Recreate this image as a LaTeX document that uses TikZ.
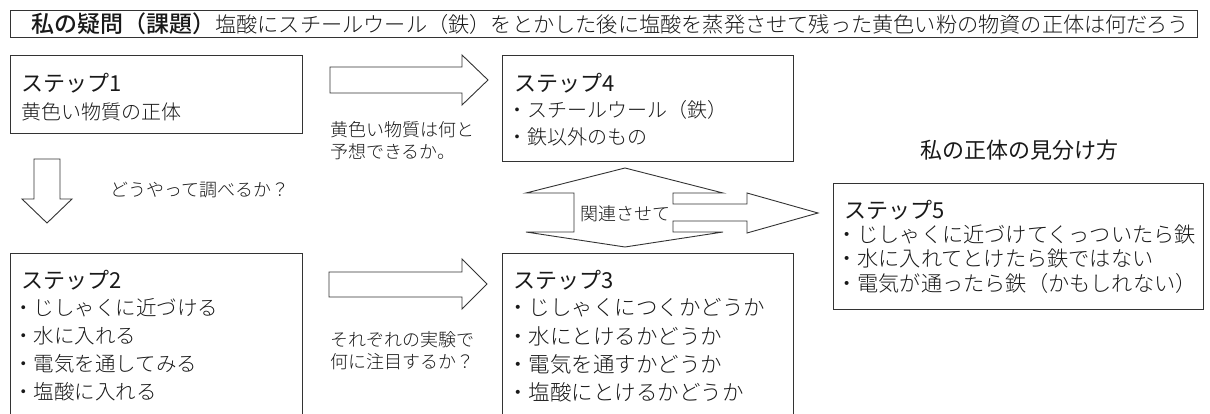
\documentclass[tikz,border=0pt]{standalone}
\usepackage{fontspec}
\setmainfont{Noto Sans CJK JP Light}[BoldFont={Noto Sans CJK JP Medium}]
\newfontfamily\jpreg{Noto Sans CJK JP}
\newcommand{\fsz}[1]{\fontsize{#1pt}{#1pt}\selectfont}
\tikzset{
  boxst/.style={draw=black!80, line width=1pt, inner sep=0pt, anchor=north west},
  txt/.style={inner sep=0pt, anchor=west, text=black!90},
  blockarrow/.style={draw=black!80, line width=0.9pt, fill=white, line join=miter},
}
\begin{document}
\begin{tikzpicture}[x=1pt,y=-1pt]
\useasboundingbox (0,0) rectangle (1210,414);
\clip (0,0) rectangle (1210,414);
% title
\node[boxst, minimum width=1187pt, minimum height=27pt] (tb) at (10,10) {};
\node[txt] (tt) at (31,23.5) {{\fsz{23}\bfseries 私の疑問（課題）}{\fsz{21.2}塩酸にスチールウール（鉄）をとかした後に塩酸を蒸発させて残った黄色い粉の物資の正体は何だろう}};
% boxes
\node[boxst, minimum width=292pt, minimum height=78pt] (s1) at (10,55) {};
\node[boxst, minimum width=291pt, minimum height=106pt] (s4) at (502,55) {};
\node[boxst, minimum width=292pt, minimum height=200pt] (s2) at (10,253) {};
\node[boxst, minimum width=291pt, minimum height=200pt] (s3) at (502,253) {};
\node[boxst, minimum width=370pt, minimum height=126pt] (s5) at (833,183) {};
% step 1
\node[txt] (s1t) at (21,83) {\fsz{22}\jpreg ステップ1};
\node[txt] (s1a) at (21,112) {\fsz{20}黄色い物質の正体};
% step 4
\node[txt] (s4t) at (514,83) {\fsz{22}\jpreg ステップ4};
\node[txt] (s4a) at (507,110) {\fsz{20}・スチールウール（鉄）};
\node[txt] (s4b) at (507,137) {\fsz{20}・鉄以外のもの};
% step 2
\node[txt] (s2t) at (21,280) {\fsz{22}\jpreg ステップ2};
\node[txt] (s2a) at (13,308) {\fsz{20.5}・じしゃくに近づける};
\node[txt] (s2b) at (13,336) {\fsz{20.5}・水に入れる};
\node[txt] (s2c) at (13,364) {\fsz{20.5}・電気を通してみる};
\node[txt] (s2d) at (13,392) {\fsz{20.5}・塩酸に入れる};
% step 3
\node[txt] (s3t) at (513,280) {\fsz{22}\jpreg ステップ3};
\node[txt] (s3a) at (507,308) {\fsz{21.5}・じしゃくにつくかどうか};
\node[txt] (s3b) at (507,336) {\fsz{21.5}・水にとけるかどうか};
\node[txt] (s3c) at (507,364) {\fsz{21.5}・電気を通すかどうか};
\node[txt] (s3d) at (507,392) {\fsz{21.5}・塩酸にとけるかどうか};
% step 5
\node[txt] (s5h) at (920,150) {\fsz{22}\jpreg 私の正体の見分け方};
\node[txt] (s5t) at (844,210) {\fsz{22}\jpreg ステップ5};
\node[txt] (s5a) at (836,234) {\fsz{21.2}・じしゃくに近づけてくっついたら鉄};
\node[txt] (s5b) at (836,258) {\fsz{21.2}・水に入れてとけたら鉄ではない};
\node[txt] (s5c) at (836,283) {\fsz{21.2}・電気が通ったら鉄（かもしれない）};
% block arrows
\draw[blockarrow] (330,67) -- (462,67) -- (462,55) -- (488,80) -- (462,105) -- (462,93) -- (330,93) -- cycle;
\draw[blockarrow] (329,272) -- (462,272) -- (462,259) -- (487,284) -- (462,309) -- (462,297) -- (329,297) -- cycle;
\draw[blockarrow] (34,159) -- (60,159) -- (60,199) -- (72,199) -- (47,223) -- (22,199) -- (34,199) -- cycle;
\draw[blockarrow] (625,168) -- (723,193) -- (673,193) -- (673,204) -- (747,204) -- (747,193) -- (818,213) -- (747,233) -- (747,221) -- (673,221) -- (673,232) -- (723,232) -- (625,247) -- (526,232) -- (574,232) -- (574,193) -- (526,193) -- cycle;
% arrow labels
\node[txt, align=left, font=\fontsize{18pt}{22pt}\selectfont] (l1) at (330,141) {黄色い物質は何と\\予想できるか。};
\node[txt] (l2) at (110,190) {\fsz{18}どうやって調べるか？};
\node[txt, align=left, font=\fontsize{18pt}{22pt}\selectfont] (l3) at (330,351) {それぞれの実験で\\何に注目するか？};
\node[txt] (l4) at (580,214) {\fsz{18}関連させて};
\end{tikzpicture}
\end{document}
